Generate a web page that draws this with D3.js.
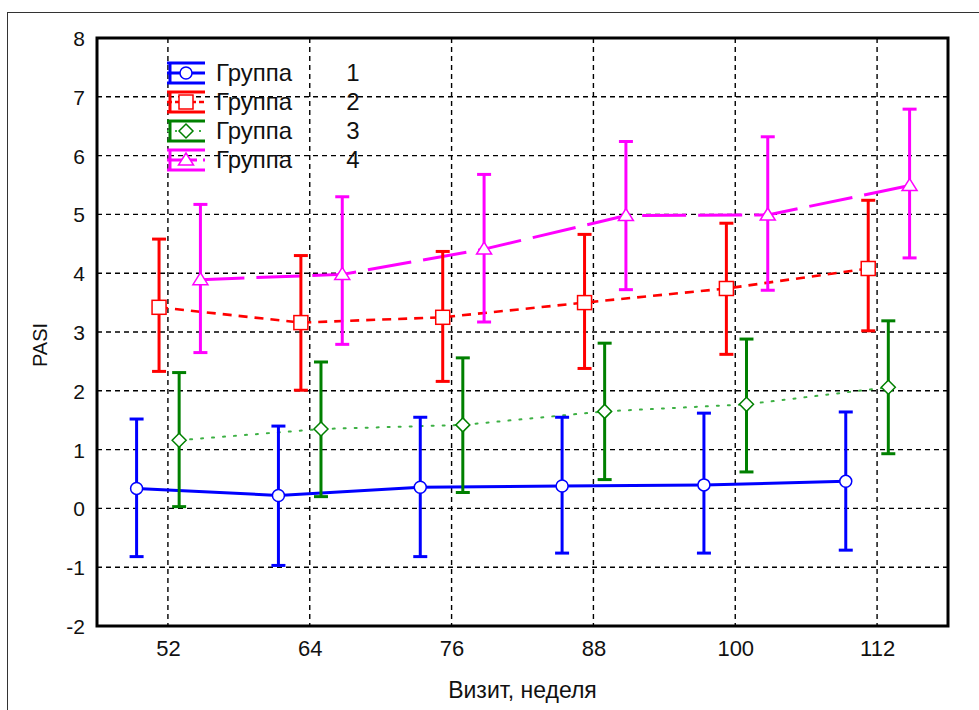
<!DOCTYPE html>
<html><head><meta charset="utf-8">
<script src="https://cdn.jsdelivr.net/npm/d3@7"></script>
<style>html,body{margin:0;padding:0;background:#fff;}svg{display:block;}</style>
</head><body>
<svg id="c" width="979" height="710"></svg>
<script>
// ---- data ----
const weeks = [52, 64, 76, 88, 100, 112];
const xTickLabels = ["52", "64", "76", "88", "100", "112"];
const yTicks = [-2, -1, 0, 1, 2, 3, 4, 5, 6, 7, 8];
const yTickLabels = ["-2", "-1", "0", "1", "2", "3", "4", "5", "6", "7", "8"];
const groupLabels = ["Группа", "Группа", "Группа", "Группа"];
const groupNumbers = ["1", "2", "3", "4"];

const mean1 = [0.34, 0.22, 0.36, 0.38, 0.40, 0.46];
const low1  = [-0.82, -0.97, -0.82, -0.76, -0.76, -0.71];
const high1 = [1.52, 1.40, 1.55, 1.55, 1.62, 1.64];

const mean2 = [3.42, 3.16, 3.25, 3.50, 3.74, 4.08];
const low2  = [2.33, 2.01, 2.16, 2.38, 2.62, 3.02];
const high2 = [4.58, 4.30, 4.37, 4.66, 4.85, 5.24];

const mean3 = [1.16, 1.35, 1.42, 1.65, 1.77, 2.06];
const low3  = [0.03, 0.20, 0.27, 0.49, 0.62, 0.93];
const high3 = [2.31, 2.49, 2.56, 2.81, 2.88, 3.19];

const mean4 = [3.89, 3.98, 4.41, 4.98, 4.99, 5.49];
const low4  = [2.65, 2.79, 3.17, 3.72, 3.71, 4.26];
const high4 = [5.17, 5.30, 5.68, 6.24, 6.32, 6.79];

// ---- style / layout ----
const dodge = [-2.65, -0.75, 0.95, 2.75]; // horizontal offset (weeks) per group
const series = [
  {mean: mean1, low: low1, high: high1, color: "#0000ff", lineColor: "#0000ff", dash: null, lw: 3, marker: "circle"},
  {mean: mean2, low: low2, high: high2, color: "#ff0000", lineColor: "#ff0000", dash: "9,7", lw: 2.6, marker: "square"},
  {mean: mean3, low: low3, high: high3, color: "#008000", lineColor: "#3cb043", dash: "2,9", lw: 2, marker: "diamond"},
  {mean: mean4, low: low4, high: high4, color: "#ff00ff", lineColor: "#ff00ff", dash: "44,12", lw: 3, marker: "triangle"}
];

const svg = d3.select("#c");
const L = 97, R = 948, T = 38, B = 626;
const x = d3.scaleLinear().domain([46, 118]).range([L, R]);
const y = d3.scaleLinear().domain([-2, 8]).range([B, T]);

const narrow = "'Liberation Sans Narrow','Arial Narrow','Liberation Sans',Arial,sans-serif";
const regular = "'Liberation Sans',Arial,sans-serif";

// outer frame
svg.append("rect").attr("x", 7.5).attr("y", 12.5).attr("width", 980).attr("height", 710)
  .attr("fill", "none").attr("stroke", "#333").attr("stroke-width", 1);

// grid
const grid = svg.append("g");
grid.selectAll("line.gx").data(weeks).join("line")
  .attr("x1", d => x(d)).attr("x2", d => x(d)).attr("y1", T).attr("y2", B)
  .attr("stroke", "#000").attr("stroke-width", 1.4).attr("stroke-dasharray", "5,4");
grid.selectAll("line.gy").data(yTicks.filter(d => d > -2 && d < 8)).join("line")
  .attr("x1", L).attr("x2", R).attr("y1", d => y(d)).attr("y2", d => y(d))
  .attr("stroke", "#000").attr("stroke-width", 1.4).attr("stroke-dasharray", "5,4");

// axes (labels via d3 axes)
const yAxis = d3.axisLeft(y).tickValues(yTicks).tickSize(0).tickPadding(12)
  .tickFormat((d, i) => yTickLabels[i]);
const gy = svg.append("g").attr("transform", `translate(${L},0)`).call(yAxis);
gy.select(".domain").remove();
gy.selectAll("text").attr("font-family", regular).attr("font-size", 21).attr("fill", "#111")
  .attr("dy", "0.36em");

const xAxis = d3.axisBottom(x).tickValues(weeks).tickSize(0).tickPadding(14)
  .tickFormat((d, i) => xTickLabels[i]);
const gx = svg.append("g").attr("transform", `translate(0,${B})`).call(xAxis);
gx.select(".domain").remove();
gx.selectAll("text").attr("font-family", narrow).attr("font-size", 22).attr("fill", "#111");

// axis titles
svg.append("text").attr("x", (L + R) / 2).attr("y", 698).attr("text-anchor", "middle")
  .attr("font-family", narrow).attr("font-size", 23).attr("fill", "#111").text("Визит, неделя");
svg.append("text").attr("transform", "translate(47,345) rotate(-90)").attr("text-anchor", "middle")
  .attr("font-family", regular).attr("font-size", 20).attr("fill", "#111").text("PASI");

// marker drawing
function drawMarker(g, type, cx, cy, color) {
  if (type === "circle") {
    g.append("circle").attr("cx", cx).attr("cy", cy).attr("r", 6)
      .attr("fill", "#fff").attr("stroke", color).attr("stroke-width", 1.5);
  } else if (type === "square") {
    g.append("rect").attr("x", cx - 7).attr("y", cy - 7).attr("width", 14).attr("height", 14)
      .attr("fill", "#fff").attr("stroke", color).attr("stroke-width", 1.5);
  } else if (type === "diamond") {
    g.append("path").attr("d", `M${cx},${cy - 7}L${cx + 7},${cy}L${cx},${cy + 7}L${cx - 7},${cy}Z`)
      .attr("fill", "#fff").attr("stroke", color).attr("stroke-width", 1.5);
  } else {
    g.append("path").attr("d", `M${cx},${cy - 7}L${cx + 7.5},${cy + 5}L${cx - 7.5},${cy + 5}Z`)
      .attr("fill", "#fff").attr("stroke", color).attr("stroke-width", 1.5);
  }
}

const plot = svg.append("g");
// lines
series.forEach((s, gi) => {
  const line = d3.line().x((d, i) => x(weeks[i] + dodge[gi])).y(d => y(d));
  const p = plot.append("path").attr("d", line(s.mean)).attr("fill", "none")
    .attr("stroke", s.lineColor).attr("stroke-width", s.lw);
  if (s.dash) p.attr("stroke-dasharray", s.dash);
  if (gi === 2) p.attr("stroke-linecap", "round");
});
// error bars
series.forEach((s, gi) => {
  const g = plot.append("g").attr("stroke", s.color).attr("stroke-width", 3);
  weeks.forEach((w, i) => {
    const cx = x(w + dodge[gi]);
    g.append("line").attr("x1", cx).attr("x2", cx).attr("y1", y(s.low[i])).attr("y2", y(s.high[i]));
    g.append("line").attr("x1", cx - 7).attr("x2", cx + 7).attr("y1", y(s.low[i])).attr("y2", y(s.low[i]));
    g.append("line").attr("x1", cx - 7).attr("x2", cx + 7).attr("y1", y(s.high[i])).attr("y2", y(s.high[i]));
  });
});
// markers
series.forEach((s, gi) => {
  const g = plot.append("g");
  weeks.forEach((w, i) => drawMarker(g, s.marker, x(w + dodge[gi]), y(s.mean[i]), s.color));
});

// plot border
svg.append("rect").attr("x", L).attr("y", T).attr("width", R - L).attr("height", B - T)
  .attr("fill", "none").attr("stroke", "#000").attr("stroke-width", 3);

// legend
const leg = svg.append("g");
series.forEach((s, gi) => {
  const cy = 73 + gi * 29;
  const g = leg.append("g").attr("stroke", s.color).attr("stroke-width", 3);
  g.append("line").attr("x1", 167).attr("x2", 205).attr("y1", cy - 10).attr("y2", cy - 10);
  g.append("line").attr("x1", 167).attr("x2", 205).attr("y1", cy + 10).attr("y2", cy + 10);
  g.append("line").attr("x1", 170).attr("x2", 170).attr("y1", cy - 10).attr("y2", cy + 10);
  const ml = g.append("line").attr("x1", 167).attr("x2", 205).attr("y1", cy).attr("y2", cy)
    .attr("stroke", s.lineColor).attr("stroke-width", s.lw);
  if (s.dash) ml.attr("stroke-dasharray", gi === 3 ? "30,6" : (gi === 1 ? "5,3" : "2,6"));
  drawMarker(leg, s.marker, 186, cy, s.color);
  leg.append("text").attr("x", 216).attr("y", cy + 8).attr("font-family", narrow).attr("font-size", 24)
    .attr("fill", "#111").text(groupLabels[gi]);
  leg.append("text").attr("x", 353).attr("y", cy + 8).attr("text-anchor", "middle")
    .attr("font-family", narrow).attr("font-size", 24).attr("fill", "#111").text(groupNumbers[gi]);
});
</script>
</body></html>
